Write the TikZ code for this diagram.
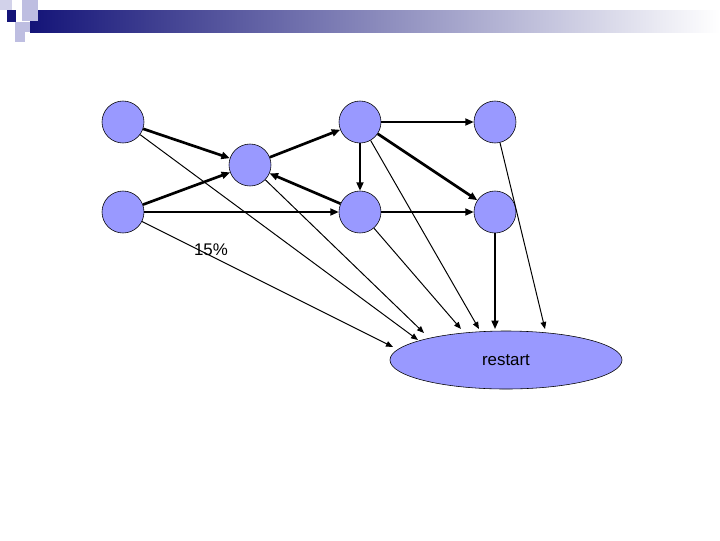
\documentclass[tikz,border=0pt]{standalone}
\usepackage{fontspec}
\setmainfont{Liberation Sans}
\usetikzlibrary{arrows.meta,shapes.geometric}
\definecolor{nodeblue}{RGB}{153,153,255}
\definecolor{navy}{RGB}{20,20,120}
\definecolor{paleblue}{RGB}{190,190,225}
\tikzset{
  state/.style={circle,draw,fill=nodeblue,minimum size=1.05cm,inner sep=0pt},
  heavy/.style={-{Triangle[length=6pt,width=5pt]},line width=1.9pt},
  plain/.style={-{Triangle[length=6pt,width=5pt]},line width=1.2pt},
  fine/.style={-{Triangle[length=5pt,width=4pt]},line width=0.7pt}
}
\begin{document}
\begin{tikzpicture}[x=0.025cm,y=-0.025cm]
  \useasboundingbox (0,0) rectangle (720,540);
  % header band
  \shade[left color=navy,right color=white] (30,10) rectangle (720,32);
  \fill[paleblue] (22,0) rectangle (38,21);
  \fill[paleblue!70] (0,0) rectangle (12,10);
  \fill[paleblue] (15,22) rectangle (30,32);
  \fill[paleblue] (15,32) rectangle (25,42);
  \fill[navy] (7,10) rectangle (16,22);

  \node[state] (a) at (123,122) {};
  \node[state] (b) at (250,165) {};
  \node[state] (c) at (360,122) {};
  \node[state] (d) at (495,122) {};
  \node[state] (e) at (123,212) {};
  \node[state] (f) at (360,212) {};
  \node[state] (g) at (495,212) {};
  \node[ellipse,draw,fill=nodeblue,minimum width=5.8cm,minimum height=1.45cm,
        inner sep=0pt,font=\large] (restart) at (506,360) {restart};

  % where the thin lines meet the ellipse
  \coordinate (inE) at (393,347);
  \coordinate (inA) at (418,340);
  \coordinate (inB) at (424,333);
  \coordinate (inF) at (461,329);
  \coordinate (inC) at (479,329);
  \coordinate (inG) at (495,329);
  \coordinate (inD) at (545,329);

  \draw[heavy] (a) -- (b);
  \draw[heavy] (e) -- (b);
  \draw[heavy] (b) -- (c);
  \draw[heavy] (f) -- (b);
  \draw[heavy] (c) -- (g);
  \draw[plain] (c) -- (d);
  \draw[plain] (c) -- (f);
  \draw[plain] (e) -- (f);
  \draw[plain] (f) -- (g);
  \draw[plain] (g) -- (inG);

  \draw[fine] (e) -- (inE);
  \draw[fine] (a) -- (inA);
  \draw[fine] (b) -- (inB);
  \draw[fine] (f) -- (inF);
  \draw[fine] (c) -- (inC);
  \draw[fine] (d) -- (inD);

  \node[font=\large] (pct) at (211,250) {15\%};
\end{tikzpicture}
\end{document}
